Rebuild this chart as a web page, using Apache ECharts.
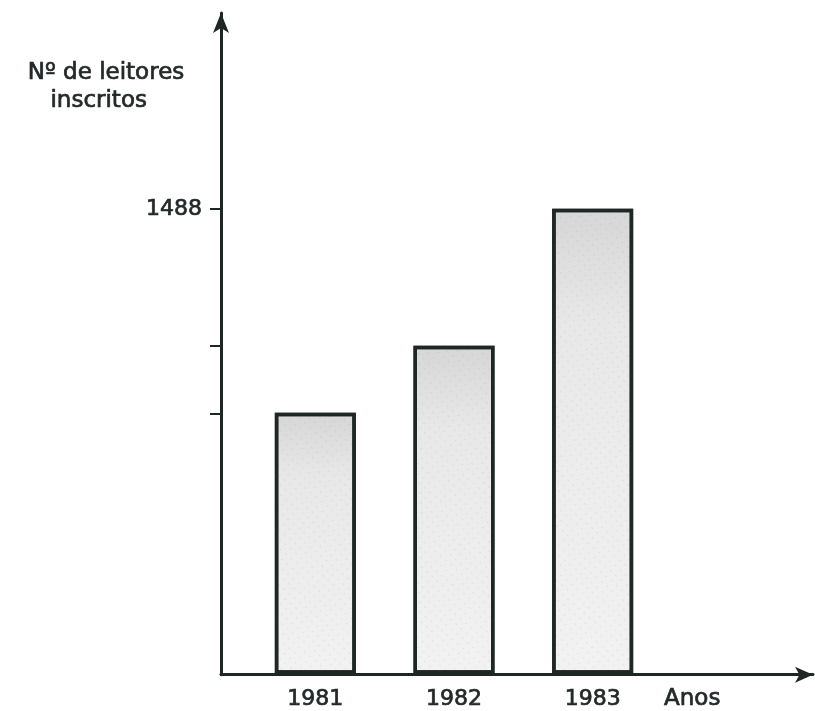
<!DOCTYPE html>
<html>
<head>
<meta charset="utf-8">
<script src="https://cdn.jsdelivr.net/npm/echarts@6/dist/echarts.min.js"></script>
<style>
  html, body { margin: 0; padding: 0; background: #fff; }
  #chart { width: 815px; height: 711px; }
</style>
</head>
<body>
<div id="chart"></div>
<script>
var anos = ['1981', '1982', '1983'];
var leitores = [835, 1050, 1488];
var marcasY = [835, 1050, 1488];
var rotulosY = [1488];
var topoY = 2115;

var tinta = '#1f2626';
var corTexto = '#232828';
var fonte = '"DejaVu Sans", sans-serif';

// traço um pouco mais grosso, como as letras de normógrafo
function letra(extra) {
  var s = {
    fontFamily: fonte,
    fontSize: 22,
    fontWeight: 'normal',
    color: corTexto,
    textBorderColor: corTexto,
    textBorderWidth: 0.7
  };
  for (var k in extra) s[k] = extra[k];
  return s;
}

var myChart = echarts.init(document.getElementById('chart'));
var option = {
  backgroundColor: '#ffffff',
  aria: { enabled: true, decal: { show: true } },
  title: {
    text: 'Nº de leitores\ninscritos  ',
    left: 101,
    top: 54,
    textAlign: 'center',
    textStyle: letra({ fontSize: 23, lineHeight: 28 })
  },
  grid: [
    // eixos com setas
    { left: 221, right: 2, top: 13, bottom: 36 },
    // barras
    { left: 246, width: 416, top: 13, bottom: 36 }
  ],
  xAxis: [{
    gridIndex: 0,
    type: 'value',
    min: 0,
    max: 1,
    name: '{a|Anos}',
    nameLocation: 'end',
    nameGap: -149,
    nameTextStyle: {
      align: 'left',
      verticalAlign: 'top',
      padding: [13, 0, 0, 0],
      rich: { a: letra({ fontSize: 23 }) }
    },
    axisLine: {
      show: true,
      symbol: ['none', 'arrow'],
      symbolSize: [12, 18],
      lineStyle: { color: tinta, width: 3 }
    },
    axisTick: { show: false },
    axisLabel: { show: false },
    splitLine: { show: false }
  }, {
    gridIndex: 1,
    type: 'category',
    data: anos,
    axisLine: { show: false },
    axisTick: { show: false },
    axisLabel: letra({ margin: 15 })
  }],
  yAxis: [{
    gridIndex: 0,
    type: 'value',
    min: 0,
    max: topoY,
    axisLine: {
      show: true,
      symbol: ['none', 'arrow'],
      symbolSize: [12, 20],
      lineStyle: { color: tinta, width: 3 }
    },
    axisTick: {
      show: true,
      length: 11,
      customValues: marcasY,
      lineStyle: { color: tinta, width: 2 }
    },
    axisLabel: letra({
      show: true,
      margin: 19,
      customValues: rotulosY,
      formatter: function (v) { return String(v); }
    }),
    splitLine: { show: false }
  }, {
    gridIndex: 1,
    type: 'value',
    min: 0,
    max: topoY,
    show: false
  }],
  series: [{
    type: 'bar',
    xAxisIndex: 1,
    yAxisIndex: 1,
    data: leitores,
    barWidth: 81,
    itemStyle: {
      color: {
        type: 'linear', x: 0, y: 0, x2: 0, y2: 1,
        colorStops: [
          { offset: 0, color: '#d6d6d6' },
          { offset: 0.25, color: '#e8e8e8' },
          { offset: 1, color: '#f2f2f2' }
        ]
      },
      borderColor: tinta,
      borderWidth: 3.5,
      decal: {
        symbol: 'circle',
        symbolSize: 0.35,
        color: 'rgba(60,60,60,0.22)',
        dashArrayX: [4, 3],
        dashArrayY: [3, 4],
        rotation: 0.7
      }
    },
    silent: true
  }]
};
myChart.setOption(option);
</script>
</body>
</html>
